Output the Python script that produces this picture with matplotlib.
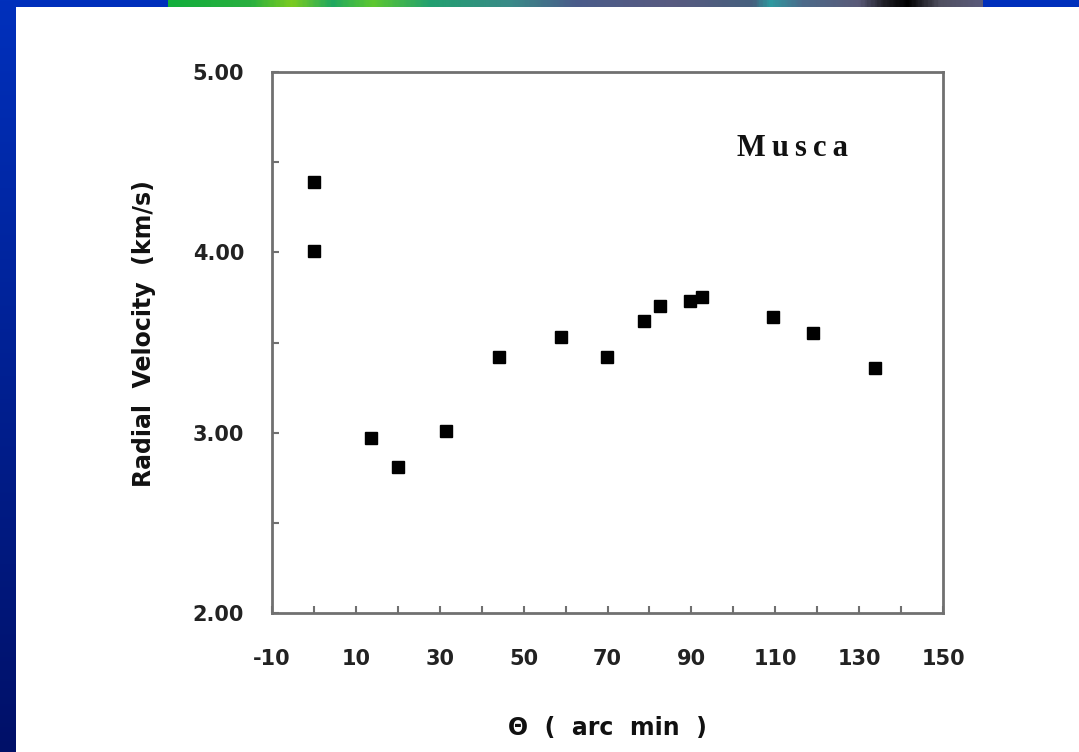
import numpy as np
import matplotlib
matplotlib.use("Agg")
import matplotlib.pyplot as plt
from matplotlib.colors import LinearSegmentedColormap

plt.rcParams["axes.unicode_minus"] = False

# Musca radial velocity vs. angular offset
theta = [0.0, 0.0, 13.6, 20.1, 31.6, 44.1, 58.8, 69.8, 78.8, 82.5, 89.7, 92.5, 109.4, 119.1, 133.8]
velocity = [4.39, 4.01, 2.97, 2.81, 3.01, 3.42, 3.53, 3.42, 3.62, 3.70, 3.73, 3.75, 3.64, 3.55, 3.36]

xticks = [-10, 10, 30, 50, 70, 90, 110, 130, 150]
yticks = [2.0, 3.0, 4.0, 5.0]

W, H = 1079, 752
fig = plt.figure(figsize=(W / 100, H / 100), dpi=100)

# slide background: blue gradient frame, white panel, image strip on top
bg = fig.add_axes([0, 0, 1, 1])
bg.set_xlim(0, W)
bg.set_ylim(H, 0)
bg.axis("off")
blue = LinearSegmentedColormap.from_list("blue", ["#0030bc", "#001068"])
grad = np.linspace(0, 1, 256).reshape(-1, 1)
bg.imshow(grad, cmap=blue, extent=[0, W, H, 0], aspect="auto")
bg.add_patch(plt.Rectangle((16, 7), W - 16, H - 7, color="white", lw=0))
strip = LinearSegmentedColormap.from_list("strip", [
    (0.0, "#12ae3c"), (0.10, "#2ab040"), (0.15, "#7ccc20"), (0.20, "#20a860"),
    (0.25, "#5ec830"), (0.32, "#22a070"), (0.42, "#3a8a88"), (0.50, "#4a5c8a"),
    (0.62, "#585a80"), (0.72, "#46607e"), (0.74, "#2e9aa0"), (0.78, "#4c6a8a"),
    (0.85, "#5a5a78"), (0.88, "#202028"), (0.91, "#000000"), (0.95, "#505060"),
    (1.0, "#5a5a7a")])
bg.imshow(np.linspace(0, 1, 400).reshape(1, -1), cmap=strip,
          extent=[168, 983, 7, 0], aspect="auto")

ax = fig.add_axes([272 / W, 1 - 613 / H, (943 - 272) / W, (613 - 72) / H])
ax.plot(theta, velocity, "s", color="black", markersize=8.5)

ax.set_xlim(-10, 150)
ax.set_ylim(2, 5)
ax.set_xticks(xticks)
ax.set_xticks(np.arange(-10, 151, 10), minor=True)
ax.set_yticks(yticks)
ax.set_yticks(np.arange(2, 5.01, 0.5), minor=True)
ax.set_yticklabels(["%.2f" % v for v in yticks])
ax.tick_params(which="both", direction="in", length=5, width=1.5, color="#707070",
               top=False, right=False)
ax.tick_params(axis="x", which="major", pad=26, labelsize=15, labelcolor="#222222")
ax.tick_params(axis="y", which="major", pad=20, labelsize=15, labelcolor="#222222")
for lab in ax.get_xticklabels() + ax.get_yticklabels():
    lab.set_fontweight("bold")
for s in ax.spines.values():
    s.set_color("#707070")
    s.set_linewidth(2)

ax.set_ylabel("Radial  Velocity  (km/s)", fontsize=17, fontweight="bold",
              color="#111111")
ax.yaxis.set_label_coords(-0.173, 0.517)
ax.set_xlabel("\u0398  (  arc  min  )", fontsize=17, fontweight="bold",
              color="#111111")
ax.xaxis.set_label_coords(0.5, -0.19)
ax.text(0.693, 0.844, "M\u2009u\u2009s\u2009c\u2009a", transform=ax.transAxes, fontsize=22,
        fontweight="bold", family="Liberation Serif", color="#111111")

fig.savefig("out.png", dpi=100)
